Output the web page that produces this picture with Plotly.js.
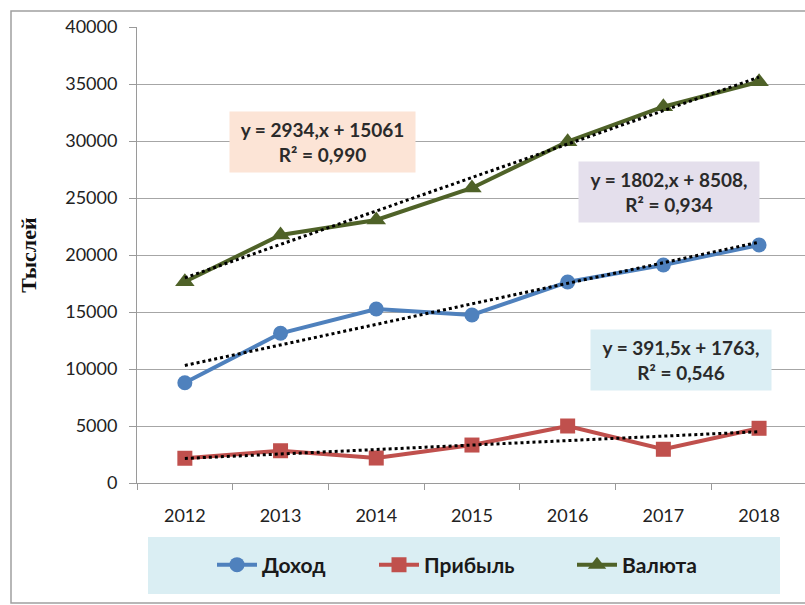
<!DOCTYPE html>
<html>
<head>
<meta charset="utf-8">
<script src="https://cdn.plot.ly/plotly-3.0.1.min.js"></script>
<style>html,body{margin:0;padding:0;background:#fff;}#chart{width:805px;height:605px;}</style>
</head>
<body>
<div id="chart"></div>
<script>
// ---- data ----
const years = ['2012','2013','2014','2015','2016','2017','2018'];
const dohod   = [8800, 13130, 15260, 14740, 17630, 19120, 20880];
const pribyl  = [2170, 2830, 2190, 3330, 5000, 2960, 4800];
const valuta  = [17660, 21750, 23070, 25880, 29940, 33010, 35200];
const seriesNames = ['Доход', 'Прибыль', 'Валюта'];
// trendline coefficients as shown in the chart labels (slope, intercept)
const trendSlopes = [1802, 391.5, 2934];
const trendIntercepts = [8508, 1763, 15061];
const trendLabels = [
  'y = 1802,x + 8508,<br>R² = 0,934',
  'y = 391,5x + 1763,<br>R² = 0,546',
  'y = 2934,x + 15061<br>R² = 0,990'
];
const yTitle = 'Тыслей';

// ---- styling ----
const colors = ['#4F81BD', '#C0504D', '#4F6228'];
const symbols = ['circle', 'square', 'triangle-up'];
const msizes = [15, 15, 17];
const W = 805, H = 605;
const L = 137, R = 0, T = 27, B = 122;
const pw = W - L - R, ph = H - T - B;
const px = v => (v - L) / pw;
const py = v => (H - B - v) / ph;
const FONT = 'Lato, "Open Sans", sans-serif';

const seriesData = [dohod, pribyl, valuta];
const traces = [];
seriesData.forEach((d, i) => {
  traces.push({
    x: years, y: d, type: 'scatter', mode: 'lines+markers',
    name: seriesNames[i],
    line: {color: colors[i], width: 4},
    marker: {symbol: symbols[i], size: msizes[i], color: colors[i]},
    legend: i === 0 ? 'legend' : ('legend' + (i + 1)),
    hoverinfo: 'skip'
  });
});
seriesData.forEach((d, i) => {
  traces.push({
    x: years, y: years.map((_, k) => trendSlopes[i] * (k + 1) + trendIntercepts[i]),
    type: 'scatter', mode: 'lines', showlegend: false,
    line: {color: '#000', width: 3, dash: 'dot'},
    hoverinfo: 'skip'
  });
});

const legendFont = {family: FONT, size: 21, color: '#1a1a1a', weight: 'bold'};
const legendBase = (x) => ({
  x: x, y: py(565), xanchor: 'left', yanchor: 'middle', orientation: 'h',
  bgcolor: 'rgba(0,0,0,0)', font: legendFont, borderwidth: 0, itemwidth: 40
});

const annFont = {family: FONT, size: 19, color: '#2a2a2a', weight: 'bold'};
const boxes = [
  {cx: 669, cy: 192, w: 180, h: 60, bg: '#E4DFEC'},
  {cx: 681, cy: 359.5, w: 180, h: 60, bg: '#DBEEF4'},
  {cx: 322.5, cy: 142, w: 185, h: 60, bg: '#FCE4D6'}
];
const annotations = boxes.map((b, i) => ({
  xref: 'paper', yref: 'paper', x: px(b.cx), y: py(b.cy),
  xanchor: 'center', yanchor: 'middle', showarrow: false,
  text: trendLabels[i], font: annFont, bgcolor: b.bg,
  width: b.w, height: b.h, borderpad: 0, align: 'center', valign: 'middle'
}));

const layout = {
  width: W, height: H,
  margin: {l: L, r: R, t: T, b: B, pad: 0},
  paper_bgcolor: '#fff', plot_bgcolor: '#fff',
  showlegend: true,
  xaxis: {
    type: 'category', range: [-0.5, 6.48], fixedrange: true,
    showgrid: false, zeroline: false,
    showline: true, linecolor: '#9a9a9a', linewidth: 1,
    ticks: 'outside', tickson: 'boundaries', ticklen: 6, tickcolor: '#9a9a9a',
    ticklabelstandoff: 16,
    tickfont: {family: FONT, size: 18, color: '#222'}
  },
  yaxis: {
    range: [0, 40000], dtick: 5000, tick0: 0, tickformat: 'd', fixedrange: true,
    showgrid: true, gridcolor: '#a6a6a6', gridwidth: 1, zeroline: false,
    showline: true, linecolor: '#9a9a9a', linewidth: 1,
    ticks: 'outside', ticklen: 7, tickcolor: '#9a9a9a',
    ticklabelstandoff: 8,
    tickfont: {family: FONT, size: 18, color: '#222'},
    title: {text: yTitle, standoff: 22, font: {family: '"Liberation Serif", serif', size: 22, color: '#111', weight: 'bold'}}
  },
  legend: legendBase(px(212)),
  legend2: legendBase(px(374)),
  legend3: legendBase(px(572)),
  annotations: annotations,
  shapes: [
    {type: 'rect', xref: 'paper', yref: 'paper', layer: 'below',
     x0: px(11), x1: px(808), y0: py(603), y1: py(11),
     line: {color: '#a0a0a0', width: 1.5}, fillcolor: 'rgba(0,0,0,0)'},
    {type: 'rect', xref: 'paper', yref: 'paper', layer: 'below',
     x0: px(148), x1: px(780), y0: py(594), y1: py(537),
     line: {width: 0}, fillcolor: '#DAEEF3'}
  ]
};

Plotly.newPlot('chart', traces, layout, {displayModeBar: false, staticPlot: true});
</script>
</body>
</html>
